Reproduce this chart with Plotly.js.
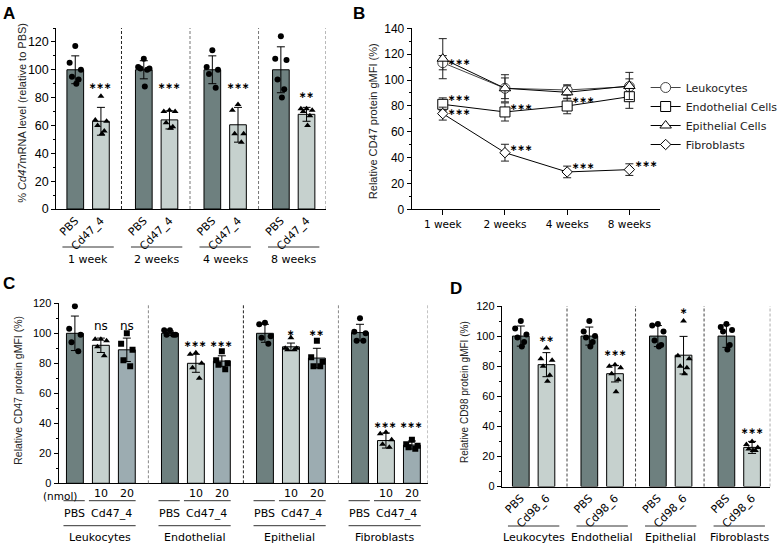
<!DOCTYPE html>
<html>
<head>
<meta charset="utf-8">
<script src="https://cdn.plot.ly/plotly-3.0.1.min.js"></script>
<style>
  html, body { margin: 0; padding: 0; background: #fff; }
  #chart { width: 783px; height: 545px; }
</style>
</head>
<body>
<div id="chart"></div>
<script>
//------------------------------------------------------------
// Data
//------------------------------------------------------------

// A: Cd47 mRNA, % of PBS
const weeks = ["1 week", "2 weeks", "4 weeks", "8 weeks"];
const aLabels = ["PBS", "Cd47_4"];
const aPbsMean = [100, 100, 100, 100];
const aPbsSd = [10, 6.5, 10, 16.5];
const aKdMean = [63, 64, 60.5, 68];
const aKdSd = [10, 6.5, 12.5, 5];
const aPbsPts = [
  [117, 105, 100, 95, 93, 90],
  [108, 102, 101, 101, 100, 88],
  [114, 102, 100, 97, 87],
  [124, 108, 107, 93, 86, 80]
];
const aKdPts = [
  [81, 64, 63, 60, 56, 54],
  [71, 70, 70, 62, 59, 58],
  [75, 71, 54, 54, 48],
  [72, 72, 71, 70, 67, 60]
];
const aSig = ["***", "***", "***", "**"];
const aSigY = [88, 88, 88, 82];

// B: CD47 protein over time
const bNames = ["Leukocytes", "Endothelial Cells", "Epithelial Cells", "Fibroblasts"];
const bLeuk = [113.4, 93.6, 92.3, 94.9];
const bLeukSd = [5.5, 8, 4, 6];
const bEndo = [81.2, 75.3, 79.9, 87.1];
const bEndoSd = [5, 7, 6, 9];
const bEpi = [116.5, 93.6, 90.5, 95.4];
const bEpiSd = [15.5, 10.5, 5, 10.5];
const bFib = [74, 43.8, 28.9, 30.7];
const bFibSd = [5, 6.5, 4.5, 4.5];
const bSigWeek = [0, 0, 0, 1, 1, 2, 2, 3];
const bSigY = [114, 86, 75.5, 79, 47.7, 84.5, 33.8, 35];

// C: CD47 protein by dose
const cGroups = ["Leukocytes", "Endothelial", "Epithelial", "Fibroblasts"];
const cDoses = ["10", "20"];
const cPbsMean = [100, 100, 100, 100.5];
const cPbsSd = [11.5, 1.5, 6, 5.5];
const c10Mean = [92, 80, 91, 28.5];
const c10Sd = [4.8, 6, 2.5, 5];
const c20Mean = [89, 81.5, 83.5, 25.5];
const c20Sd = [7.8, 3.5, 6.5, 2.7];
const cPbsPts = [
  [118, 103, 99, 94, 88],
  [102, 102, 99, 99, 99],
  [107, 106, 98, 97, 93],
  [110, 101, 100, 95, 95]
];
const c10Pts = [
  [96, 96, 95, 91, 85],
  [87, 86, 80, 77, 70],
  [97, 90, 90, 89, 89],
  [34, 33, 29, 26, 24]
];
const c20Pts = [
  [100, 93, 89, 82, 78],
  [88, 82, 80, 79, 76],
  [95, 84, 81, 78, 78],
  [29, 26, 25, 24, 23]
];
const cSig10 = ["ns", "***", "*", "***"];
const cSig20 = ["ns", "***", "**", "***"];
const cSigY = [105, 93, 100.5, 39];

// D: CD98 protein
const dLabels = ["PBS", "Cd98_6"];
const dPbsMean = [100, 100, 100, 100];
const dPbsSd = [6.7, 6, 7, 7.5];
const dKdMean = [81, 75, 87.3, 26];
const dKdSd = [8, 5.5, 12.5, 4];
const dPbsPts = [
  [110, 105, 101, 99, 96, 93],
  [110, 103, 100, 99, 96, 93],
  [108, 107, 103, 97, 94, 93],
  [108, 106, 104, 103, 94, 91]
];
const dKdPts = [
  [92, 85, 84, 80, 74, 70],
  [81, 80, 79, 75, 71, 63],
  [110, 87, 85, 80, 79, 75],
  [30, 28, 26, 25, 24, 24]
];
const dSig = ["**", "***", "*", "***"];
const dSigY = [98, 88.5, 116.5, 37];

//------------------------------------------------------------
// Helpers
//------------------------------------------------------------
const W = 783, H = 545;
const fx = p => p / W;          // pixel -> paper x
const fy = p => 1 - p / H;      // pixel -> paper y
const NUM = "Liberation Sans, Arial, sans-serif";
const LAB = "DejaVu Sans, Verdana, sans-serif";
const PBS_C = "#6e807f", KD_C = "#c6d1ce", KD20_C = "#9cacb1";
const INK = "#000";
const jit = [0, -0.22, 0.22, -0.13, 0.13, 0.04];

const traces = [], annotations = [], shapes = [];

// significance marks: centred asterisk operator, so the box stays small
const stars = s => s === "ns" ? s : "\u2217".repeat(s.length);

function addBars(xa, ya, pitch, slot, mean, sd, pts, color, symbol) {
  const xs = mean.map((_, g) => g * pitch + slot);
  traces.push({
    type: "bar", x: xs, y: mean, width: 0.65, xaxis: xa, yaxis: ya,
    marker: { color, line: { color: INK, width: 1 } },
    error_y: { type: "data", array: sd, visible: true, color: INK, thickness: 1, width: 4 },
    showlegend: false, hoverinfo: "skip"
  });
  const px = [], py = [];
  pts.forEach((arr, g) => arr.forEach((v, k) => { px.push(xs[g] + jit[k]); py.push(v); }));
  traces.push({
    type: "scatter", mode: "markers", x: px, y: py, xaxis: xa, yaxis: ya,
    marker: { symbol, size: 6, color: INK }, showlegend: false, hoverinfo: "skip"
  });
  return xs;
}

function sigNote(xa, ya, x, y, text) {
  annotations.push({
    xref: xa, yref: ya, x, y, text: stars(text), showarrow: false, yanchor: "middle",
    font: text === "ns"
      ? { family: LAB, size: 12, color: INK }
      : { family: LAB, size: 9, weight: "bold", color: INK }
  });
}

function addSig(xa, ya, xs, texts, ys) {
  xs.forEach((x, i) => { if (texts[i]) sigNote(xa, ya, x, ys[i], texts[i]); });
}

function addDivider(xa, ya, x, color) {
  shapes.push({
    type: "line", xref: xa, yref: ya + " domain", x0: x, x1: x, y0: 0, y1: 1,
    line: { color, width: 1, dash: "3px,2px" }
  });
}

function hline(xa, x0, x1, ypx) {
  shapes.push({
    type: "line", xref: xa, yref: "paper", x0, x1, y0: fy(ypx), y1: fy(ypx),
    line: { color: "#333", width: 1 }
  });
}

function label(xa, x, ypx, text, size) {
  annotations.push({
    xref: xa, yref: "paper", x, y: fy(ypx), text, showarrow: false,
    yanchor: "middle", font: { family: LAB, size: size || 11, color: INK }
  });
}

function yTitle(xpx, ypx, text, size) {
  annotations.push({
    xref: "paper", yref: "paper", x: fx(xpx), y: fy(ypx), text, showarrow: false,
    textangle: -90, xanchor: "center", yanchor: "middle",
    font: { family: NUM, size, color: "#222" }
  });
}

function letter(xpx, ypx, text) {
  annotations.push({
    xref: "paper", yref: "paper", x: fx(xpx), y: fy(ypx), text: "<b>" + text + "</b>",
    showarrow: false, xanchor: "left", yanchor: "top",
    font: { family: NUM, size: 17, color: INK }
  });
}

function yAxis(dom, range, size) {
  return {
    domain: [fy(dom[0]), fy(dom[1])], range, showline: true, linecolor: INK, linewidth: 1,
    ticks: "outside", ticklen: 4, tickcolor: INK, dtick: 20, showgrid: false, zeroline: false,
    minor: { dtick: 10, ticks: "outside", ticklen: 2, tickcolor: INK },
    tickfont: { family: NUM, size, color: INK }, fixedrange: true
  };
}

//------------------------------------------------------------
// Panel A
//------------------------------------------------------------
const PA = 2.67;
const aPbsX = addBars("x", "y", PA, 0, aPbsMean, aPbsSd, aPbsPts, PBS_C, "circle");
const aKdX = addBars("x", "y", PA, 1, aKdMean, aKdSd, aKdPts, KD_C, "triangle-up");
addSig("x", "y", aKdX, aSig, aSigY);
const aRight = 9.75;
weeks.forEach((w, g) => {
  addDivider("x", "y", g < 3 ? g * PA + 1.8 : aRight, g === 0 ? "#222" : "#777");
  hline("x", g * PA - 0.5, g * PA + 1.5, 247);
  label("x", g * PA + 0.5, 259, w);
});

//------------------------------------------------------------
// Panel B
//------------------------------------------------------------
const bX = weeks.map((_, i) => i);
const bSeries = [
  [bLeuk, bLeukSd, "circle", 10, "#444"],
  [bEndo, bEndoSd, "square", 10, INK],
  [bEpi, bEpiSd, "triangle-up", 10, INK],
  [bFib, bFibSd, "diamond", 8, INK]
];
bSeries.forEach(([y, sd, symbol, size, col], i) => {
  traces.push({
    type: "scatter", mode: "lines+markers", name: bNames[i], x: bX, y,
    xaxis: "x2", yaxis: "y2",
    line: { color: col, width: 1 },
    marker: { symbol, size, color: "#fff", line: { color: col, width: 1 } },
    error_y: { type: "data", array: sd, visible: true, color: "#222", thickness: 1, width: 4 },
    hoverinfo: "skip"
  });
});
bSigWeek.forEach((w, i) => sigNote("x2", "y2", w + 0.27, bSigY[i], "***"));

//------------------------------------------------------------
// Panel C
//------------------------------------------------------------
const PC = 3.66;
const cPbsX = addBars("x3", "y3", PC, 0, cPbsMean, cPbsSd, cPbsPts, PBS_C, "circle");
const c10X = addBars("x3", "y3", PC, 1, c10Mean, c10Sd, c10Pts, KD_C, "triangle-up");
const c20X = addBars("x3", "y3", PC, 2, c20Mean, c20Sd, c20Pts, KD20_C, "square");
addSig("x3", "y3", c10X, cSig10, cSigY);
addSig("x3", "y3", c20X, cSig20, cSigY);
const cRight = 13.6;
cGroups.forEach((grp, g) => {
  const o = g * PC;
  addDivider("x3", "y3", g < 3 ? o + 2.83 : cRight, g === 1 ? "#222" : "#888");
  label("x3", c10X[g], 493, cDoses[0]);
  label("x3", c20X[g], 493, cDoses[1]);
  hline("x3", o - 0.44, o + 0.38, 500.7);
  hline("x3", o + 0.54, o + 2.34, 500.7);
  label("x3", o - 0.03, 513.3, "PBS");
  label("x3", o + 1.42, 513.3, "Cd47_4");
  hline("x3", o - 0.44, o + 2.34, 525.7);
  label("x3", o + 0.95, 537.3, grp);
});
annotations.push({
  xref: "paper", yref: "paper", x: fx(42), y: fy(496), text: "(nmol)", showarrow: false,
  yanchor: "middle", font: { family: LAB, size: 10.5, color: INK }
});

//------------------------------------------------------------
// Panel D
//------------------------------------------------------------
const dPbsX = addBars("x4", "y4", PA, 0, dPbsMean, dPbsSd, dPbsPts, PBS_C, "circle");
const dKdX = addBars("x4", "y4", PA, 1, dKdMean, dKdSd, dKdPts, KD_C, "triangle-up");
addSig("x4", "y4", dKdX, dSig, dSigY);
const dRight = 9.72;
cGroups.forEach((grp, g) => {
  addDivider("x4", "y4", g < 3 ? g * PA + 1.8 : dRight, "#444");
  hline("x4", g * PA - 0.5, g * PA + 1.5, 526);
  label("x4", g * PA + 0.5, 537, grp);
});

// titles and letters
yTitle(22, 113, "% <i>Cd47</i>mRNA level (relative to PBS)", 11);
yTitle(378, 121, "Relative CD47 protein gMFI (%)", 11);
yTitle(18, 390, "Relative CD47 protein gMFI (%)", 10.5);
yTitle(470, 392, "Relative CD98 protein gMFI (%)", 10);
letter(1, 2, "A");
letter(356, 2, "B");
letter(1, 272, "C");
letter(454, 277, "D");

//------------------------------------------------------------
// Layout
//------------------------------------------------------------
const barTickX = (xsA, xsB, la) => ({ vals: xsA.concat(xsB), text: xsA.map(() => la[0]).concat(xsB.map(() => la[1])) });
const aTicks = barTickX(aPbsX, aKdX, aLabels);
const dTicks = barTickX(dPbsX, dKdX, dLabels);

const catAxis = (dom, range, ticks) => ({
  domain: [fx(dom[0]), fx(dom[1])], range, showline: true, linecolor: INK, linewidth: 1,
  ticks: "", showgrid: false, zeroline: false, fixedrange: true,
  tickvals: ticks ? ticks.vals : [], ticktext: ticks ? ticks.text : [],
  showticklabels: !!ticks, tickangle: -45,
  tickfont: { family: LAB, size: 11, color: INK }
});

const layout = {
  width: W, height: H,
  margin: { l: 0, r: 0, t: 0, b: 0 },
  paper_bgcolor: "#fff", plot_bgcolor: "rgba(0,0,0,0)",
  barmode: "overlay",
  showlegend: true,
  legend: {
    x: fx(654), y: fy(73), xanchor: "left", yanchor: "top",
    font: { family: LAB, size: 11, color: "#222" }, bgcolor: "rgba(0,0,0,0)"
  },
  xaxis: Object.assign(catAxis([57, 57 + (aRight + 0.74) * 26], [-0.74, aRight], aTicks), { anchor: "y" }),
  yaxis: Object.assign(yAxis([209, 28], [0, 130], 12.5), { anchor: "x" }),
  xaxis2: {
    domain: [fx(417), fx(669)], range: [-0.5, 3.5], anchor: "y2",
    showline: true, linecolor: INK, linewidth: 1, ticks: "outside", ticklen: 5, tickcolor: INK,
    tickvals: bX, ticktext: weeks, showgrid: false, zeroline: false, fixedrange: true,
    tickfont: { family: LAB, size: 10.5, color: INK }
  },
  yaxis2: Object.assign(yAxis([209.3, 28.3], [0, 140], 12), { anchor: "x2" }),
  xaxis3: Object.assign(catAxis([59.3, 59.3 + (cRight + 0.63) * 26.3], [-0.63, cRight], null), { anchor: "y3" }),
  yaxis3: Object.assign(yAxis([483.3, 303.3], [0, 120], 11), { anchor: "x3" }),
  xaxis4: Object.assign(catAxis([508.3, 508.3 + (dRight + 0.74) * 26], [-0.74, dRight], dTicks), { anchor: "y4" }),
  yaxis4: Object.assign(yAxis([486.5, 306], [0, 120], 11), { anchor: "x4" }),
  annotations, shapes
};

Plotly.newPlot("chart", traces, layout, { displayModeBar: false, staticPlot: true });
</script>
</body>
</html>
